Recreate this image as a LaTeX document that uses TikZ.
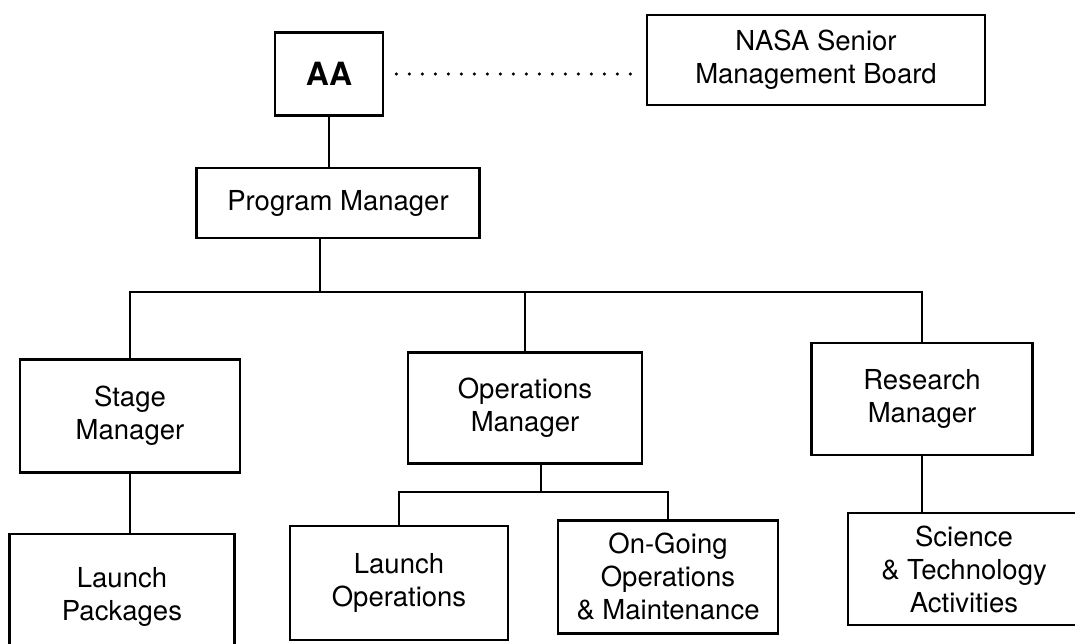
\documentclass[tikz,border=0pt]{standalone}
\usepackage{fontspec}
\setmainfont{TeX Gyre Heros}
\begin{document}
\begin{tikzpicture}[x=1pt,y=-1pt,
  box/.style={draw, line width=2.8pt, align=center, inner sep=0pt,
    font=\fontsize{27.5}{33}\selectfont},
  link/.style={line width=2.8pt},
  dots/.style={line width=3.4pt, line cap=round, dash pattern=on 0pt off 13pt}]
  \useasboundingbox (0,0) rectangle (1075,644);

  % top level
  \node[box, minimum width=108pt, minimum height=83pt,
        font=\fontsize{32}{36}\selectfont\bfseries] (aa) at (329,74) {AA};
  \node[box, minimum width=338pt, minimum height=90pt] (nasa) at (816,60)
       {NASA Senior\\Management Board};
  \node[box, minimum width=283pt, minimum height=70pt] (pm) at (338,203)
       {Program Manager};

  % managers
  \node[box, minimum width=220pt, minimum height=113pt] (sm) at (130,416)
       {Stage\\Manager};
  \node[box, minimum width=234pt, minimum height=111pt] (om) at (525,408)
       {Operations\\Manager};
  \node[box, minimum width=221pt, minimum height=112pt] (rm) at (922,399)
       {Research\\Manager};

  % activities
  \node[box, minimum width=225pt, minimum height=126pt] (lp) at (122,597)
       {Launch\\Packages};
  \node[box, minimum width=218pt, minimum height=114pt] (lo) at (399,583)
       {Launch\\Operations};
  \node[box, minimum width=220pt, minimum height=113pt] (og) at (668,577)
       {On-Going\\Operations\\\& Maintenance};
  \node[box, minimum width=232pt, minimum height=112pt] (sci) at (964,569)
       {Science\\\& Technology\\Activities};

  % bus points
  \coordinate (bus) at (320,292);
  \coordinate (obus) at (541,492);

  % connectors
  \draw[dots, shorten <=12pt, shorten >=8pt] (aa.east) -- (aa.east -| nasa.west);
  \draw[link] (aa.south) -- (aa.south |- pm.north);
  \draw[link] (pm.south -| bus) -- (bus);
  \draw[link] (sm.north) |- (bus) -| (rm.north);
  \draw[link] (om.north) -- (om.north |- bus);
  \draw[link] (sm.south) -- (sm.south |- lp.north);
  \draw[link] (om.south -| obus) -- (obus);
  \draw[link] (lo.north) |- (obus) -| (og.north);
  \draw[link] (rm.south) -- (rm.south |- sci.north);
\end{tikzpicture}
\end{document}
